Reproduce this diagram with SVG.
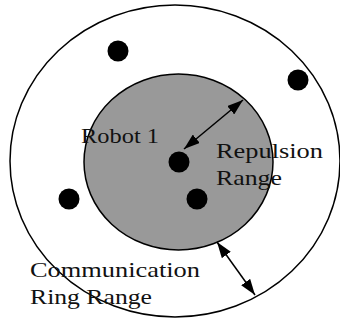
<svg xmlns="http://www.w3.org/2000/svg" width="340" height="320" viewBox="0 0 340 320">
<style>
.ring{fill:none;stroke:#000;stroke-width:1.5}
.rep{fill:#999;stroke:#000;stroke-width:1.5}
.dot{fill:#000}
.lbl{font-family:"Liberation Serif",serif;font-size:22px;fill:#111}
.arr{stroke:#000;stroke-width:1.5;fill:none;marker-start:url(#ah);marker-end:url(#ah)}
</style>
<defs>
<marker id="ah" viewBox="0 0 16 11" refX="16" refY="5.5" markerWidth="16" markerHeight="11" markerUnits="userSpaceOnUse" orient="auto-start-reverse">
<path d="M0,0 L16,5.5 L0,11 Z" fill="#000"/>
</marker>
</defs>
<rect width="340" height="320" fill="#fff"/>
<g id="comm-ring"><ellipse class="ring" cx="175" cy="161" rx="165" ry="156"/></g>
<g id="repulsion"><ellipse class="rep" cx="178.5" cy="162" rx="94.5" ry="88"/></g>
<g id="robot1"><circle class="dot" cx="179" cy="162" r="10.5"/></g>
<g id="robot2"><circle class="dot" cx="118" cy="51" r="10.5"/></g>
<g id="robot3"><circle class="dot" cx="298" cy="80" r="10.5"/></g>
<g id="robot4"><circle class="dot" cx="197" cy="199" r="10.5"/></g>
<g id="robot5"><circle class="dot" cx="69" cy="199" r="10.5"/></g>
<g id="connectors">
<line class="arr" x1="184" y1="149" x2="243" y2="100"/>
<line class="arr" x1="217" y1="242" x2="255" y2="295"/>
</g>
<g id="labels">
<text class="lbl" x="81" y="143" textLength="78" lengthAdjust="spacingAndGlyphs">Robot 1</text>
<text class="lbl" x="216" y="158" textLength="107" lengthAdjust="spacingAndGlyphs">Repulsion</text>
<text class="lbl" x="216" y="185" textLength="66" lengthAdjust="spacingAndGlyphs">Range</text>
<text class="lbl" x="30" y="277" textLength="170" lengthAdjust="spacingAndGlyphs">Communication</text>
<text class="lbl" x="30" y="304" textLength="122" lengthAdjust="spacingAndGlyphs">Ring Range</text>
</g>
</svg>
